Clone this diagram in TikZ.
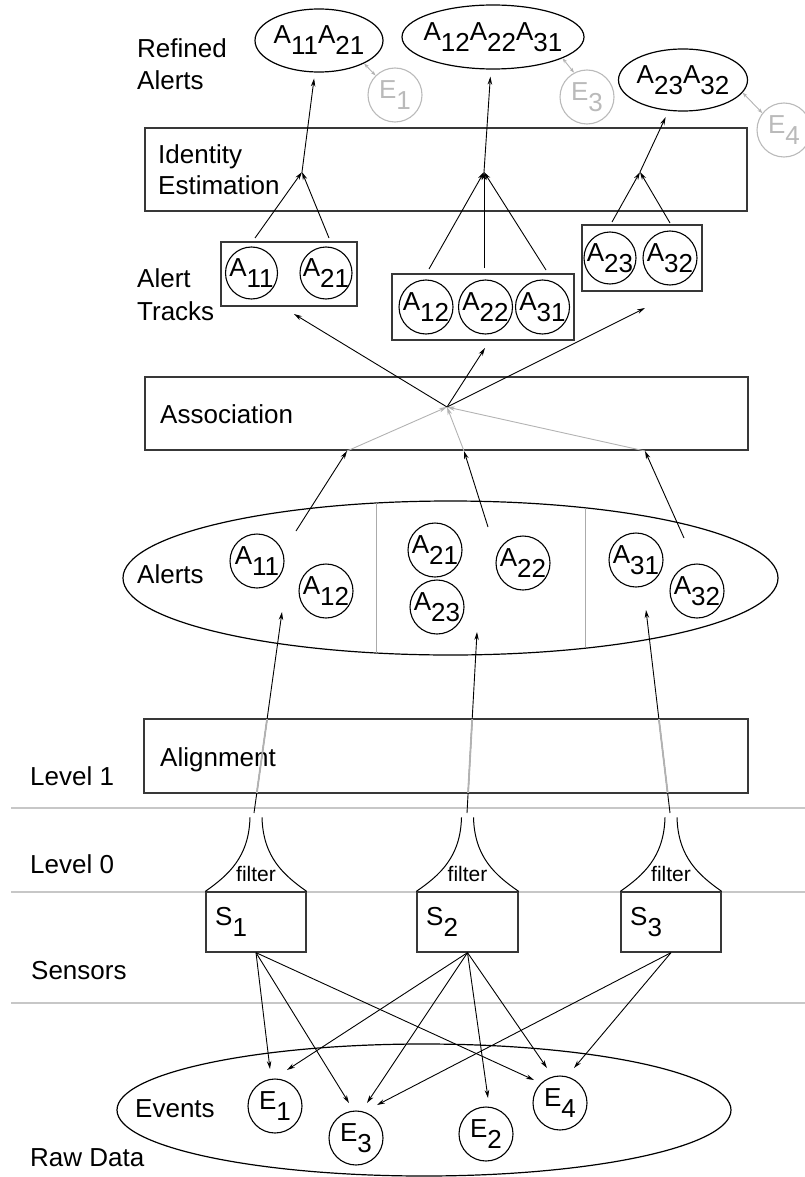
\documentclass[tikz,border=0pt]{standalone}
\usepackage{fontspec}
\setmainfont{Liberation Sans}
\usetikzlibrary{arrows.meta,shapes.geometric,calc}
% lowered index digits, same size as the letter
\newcommand{\dn}[1]{\lower11pt\hbox{#1}}
% zero-width text so the outline keeps its own size
\newcommand{\ctr}[1]{\makebox[0pt]{#1}}
\begin{document}
\begin{tikzpicture}[x=1pt,y=-1pt,
  font=\fontsize{26}{30}\selectfont,
  panel/.style={draw=black!78,line width=1.3pt,rectangle,inner sep=0pt},
  blob/.style={draw,ellipse,line width=1.2pt,inner sep=0pt},
  ball/.style={draw,circle,line width=1.1pt,inner sep=0pt,minimum size=54pt},
  ghost/.style={ball,draw=black!27,text=black!27},
  lbl/.style={anchor=base west,inner sep=0pt},
  link/.style={line width=0.9pt,-{Stealth[length=8pt,width=4.5pt]}},
  faintlink/.style={link,draw=black!30},
  twoway/.style={line width=0.9pt,draw=black!30,{Stealth[length=5pt,width=3.5pt]}-{Stealth[length=5pt,width=3.5pt]}},
  levelrule/.style={draw=black!22,line width=1.2pt},
  divider/.style={draw=black!33,line width=0.9pt},
  funnel/.style={line width=1pt},
  inbox/.style={draw=black!30,line width=1.8pt}]
\useasboundingbox (0,0) rectangle (805,1177);

% ---------- level labels and separators ----------
\node[lbl] (lv1) at (30,785) {Level 1};
\node[lbl] (lv0) at (30,873) {Level 0};
\node[lbl] (sens) at (31,979) {Sensors};
\node[lbl] (raw) at (30,1166) {Raw Data};
\coordinate (r1a) at (11,808);  \coordinate (r1b) at (805,808);
\coordinate (r2a) at (11,892);  \coordinate (r2b) at (805,892);
\coordinate (r3a) at (11,1003); \coordinate (r3b) at (805,1003);
\draw[levelrule] (r1a) -- (r1b);
\draw[levelrule] (r2a) -- (r2b);
\draw[levelrule] (r3a) -- (r3b);

% ---------- refined alerts ----------
\node[lbl] (refA) at (137,58) {Refined};
\node[lbl] (refB) at (137,90) {Alerts};
\node[blob,minimum width=128pt,minimum height=63pt] (R1) at (319,40.5) {\ctr{A\dn{11}A\dn{21}}};
\node[blob,minimum width=182pt,minimum height=64pt] (R2) at (493,37) {\ctr{A\dn{12}A\dn{22}A\dn{31}}};
\node[blob,minimum width=129pt,minimum height=62pt] (R3) at (683,80) {\ctr{A\dn{23}A\dn{32}}};
\node[ghost] (G1) at (395,95) {\ctr{E\dn{1}}};
\node[ghost] (G3) at (587,97) {\ctr{E\dn{3}}};
\node[ghost] (G4) at (784,130) {\ctr{E\dn{4}}};
\draw[twoway] (R1.-27) -- (G1.135);
\draw[twoway] (R2.-17) -- (G3.118);
\draw[twoway] (R3.-12) -- (G4.142);

% ---------- identity estimation ----------
\node[panel,minimum width=602pt,minimum height=83pt] (ident) at (446,169.5) {};
\node[lbl] (identA) at (158,164) {Identity};
\node[lbl] (identB) at (158,195) {Estimation};
\coordinate (J1) at (302,172);
\coordinate (J2) at (484,172);
\coordinate (J3) at (640,172);
\draw[link,shorten >=6pt] (J1) -- (R1);
\draw[link,shorten >=7pt] (J2) -- (R2);
\draw[link,shorten >=7pt] (J3) -- (R3);

% ---------- alert tracks ----------
\node[lbl] (trkA) at (137,287) {Alert};
\node[lbl] (trkB) at (137,320) {Tracks};
\node[panel,minimum width=136pt,minimum height=64pt] (T1) at (289,274) {};
\node[ball,minimum size=52pt] (tA11) at (251.5,273) {\ctr{A\dn{11}}};
\node[ball,minimum size=52pt] (tA21) at (326,273) {\ctr{A\dn{21}}};
\node[panel,minimum width=182pt,minimum height=66pt] (T2) at (483,307) {};
\node[ball,minimum size=54pt] (tA12) at (426,307) {\ctr{A\dn{12}}};
\node[ball,minimum size=54pt] (tA22) at (485.5,307) {\ctr{A\dn{22}}};
\node[ball,minimum size=54pt] (tA31) at (542.5,307) {\ctr{A\dn{31}}};
\node[panel,minimum width=120pt,minimum height=66pt] (T3) at (642,258) {};
\node[ball,minimum size=52pt] (tA23) at (610,258) {\ctr{A\dn{23}}};
\node[ball,minimum size=54pt] (tA32) at (670,258) {\ctr{A\dn{32}}};

\coordinate (t11) at (255,238);
\coordinate (t21) at (329,238);
\coordinate (t12) at (429,269);
\coordinate (t22) at (484,268);
\coordinate (t31) at (546,270);
\coordinate (t23) at (612,222);
\coordinate (t32) at (670,223);
\draw[link] (t11) -- (J1);
\draw[link] (t21) -- (J1);
\draw[link] (t12) -- (J2);
\draw[link] (t22) -- (J2);
\draw[link] (t31) -- (J2);
\draw[link] (t23) -- (J3);
\draw[link] (t32) -- (J3);

% ---------- association ----------
\node[panel,minimum width=603pt,minimum height=73pt] (assoc) at (446.5,413.5) {};
\node[lbl] (assocT) at (160,423) {Association};
\coordinate (JA) at (447,407);
\coordinate (in1) at (294,314);
\coordinate (in2) at (485,348);
\coordinate (in3) at (645,308);
\draw[link] (JA) -- (in1);
\draw[link] (JA) -- (in2);
\draw[link] (JA) -- (in3);
\coordinate (b1) at (347,451);
\coordinate (b2) at (464,451);
\coordinate (b3) at (645,451);
\draw[faintlink] (b1) -- (JA);
\draw[faintlink] (b2) -- (JA);
\draw[faintlink] (b3) -- (JA);
\coordinate (s1) at (296,531);
\coordinate (s2) at (488,527);
\coordinate (s3) at (684,538);
\draw[link] (s1) -- (b1);
\draw[link] (s2) -- (b2);
\draw[link] (s3) -- (b3);

% ---------- alerts ----------
\node[blob,minimum width=655pt,minimum height=154pt] (alerts) at (450.5,578) {};
\node[lbl] (alertsT) at (137,583) {Alerts};
\coordinate (d1a) at (376,503); \coordinate (d1b) at (376,653);
\coordinate (d2a) at (585,508); \coordinate (d2b) at (585,648);
\draw[divider] (d1a) -- (d1b);
\draw[divider] (d2a) -- (d2b);
\node[ball] (aA11) at (257,561) {\ctr{A\dn{11}}};
\node[ball] (aA12) at (326,591) {\ctr{A\dn{12}}};
\node[ball] (aA21) at (435,550) {\ctr{A\dn{21}}};
\node[ball] (aA23) at (437,607) {\ctr{A\dn{23}}};
\node[ball] (aA22) at (523,563) {\ctr{A\dn{22}}};
\node[ball] (aA31) at (636,560) {\ctr{A\dn{31}}};
\node[ball] (aA32) at (697,591) {\ctr{A\dn{32}}};

% ---------- alignment ----------
\node[panel,minimum width=604pt,minimum height=74pt] (align) at (446,756) {};
\node[lbl] (alignT) at (160,766) {Alignment};
\coordinate (f1) at (254,813);
\coordinate (f2) at (467,813);
\coordinate (f3) at (670,813);
\coordinate (u1) at (282,612);
\coordinate (u2) at (477,632);
\coordinate (u3) at (646,610);
\draw[link] (f1) -- (u1);
\draw[link] (f2) -- (u2);
\draw[link] (f3) -- (u3);
\begin{scope}
  \clip ($(align.north west)+(1.5,1.5)$) rectangle ($(align.south east)+(-1.5,-1.5)$);
  \draw[inbox] (f1) -- (u1);
  \draw[inbox] (f2) -- (u2);
  \draw[inbox] (f3) -- (u3);
\end{scope}

% ---------- sensors with their filters ----------
\node[panel,minimum width=100pt,minimum height=60pt] (S1) at (256,922) {};
\node[panel,minimum width=101pt,minimum height=60pt] (S2) at (467.5,922) {};
\node[panel,minimum width=100pt,minimum height=60pt] (S3) at (671,922) {};
\node[lbl] (S1t) at (215,925) {S\dn{1}};
\node[lbl] (S2t) at (426,925) {S\dn{2}};
\node[lbl] (S3t) at (630,925) {S\dn{3}};
\foreach \s in {S1,S2,S3} {
  \draw[funnel] ($(\s.north)+(-6,-74)$) .. controls ($(\s.north)+(-7,-34)$) and ($(\s.north)+(-28,-16)$) .. (\s.north west);
  \draw[funnel] ($(\s.north)+(6,-74)$) .. controls ($(\s.north)+(7,-34)$) and ($(\s.north)+(28,-16)$) .. (\s.north east);
  \node[anchor=base,inner sep=0pt,font=\fontsize{21}{24}\selectfont] (\s f) at ($(\s.north)+(0,-10)$) {filter};
}

% ---------- raw data ----------
\node[blob,minimum width=614pt,minimum height=132pt] (events) at (424,1110) {};
\node[lbl] (eventsT) at (135,1117) {Events};
\node[ball] (E1) at (275,1106) {\ctr{E\dn{1}}};
\node[ball] (E3) at (356,1138) {\ctr{E\dn{3}}};
\node[ball] (E2) at (486,1134) {\ctr{E\dn{2}}};
\node[ball] (E4) at (560,1103) {\ctr{E\dn{4}}};
\coordinate (e1a) at (270,1069);
\coordinate (e1b) at (287,1070);
\coordinate (e3a) at (349,1103);
\coordinate (e3b) at (367,1103);
\coordinate (e3c) at (377,1105);
\coordinate (e2a) at (488,1098);
\coordinate (e4a) at (534,1080);
\coordinate (e4b) at (547,1068);
\coordinate (e4c) at (574,1068);
\draw[link] (S1.south) -- (e1a);
\draw[link] (S1.south) -- (e3a);
\draw[link] (S1.south) -- (e4a);
\draw[link] (S2.south) -- (e1b);
\draw[link] (S2.south) -- (e3b);
\draw[link] (S2.south) -- (e2a);
\draw[link] (S2.south) -- (e4b);
\draw[link] (S3.south) -- (e3c);
\draw[link] (S3.south) -- (e4c);
\end{tikzpicture}
\end{document}
